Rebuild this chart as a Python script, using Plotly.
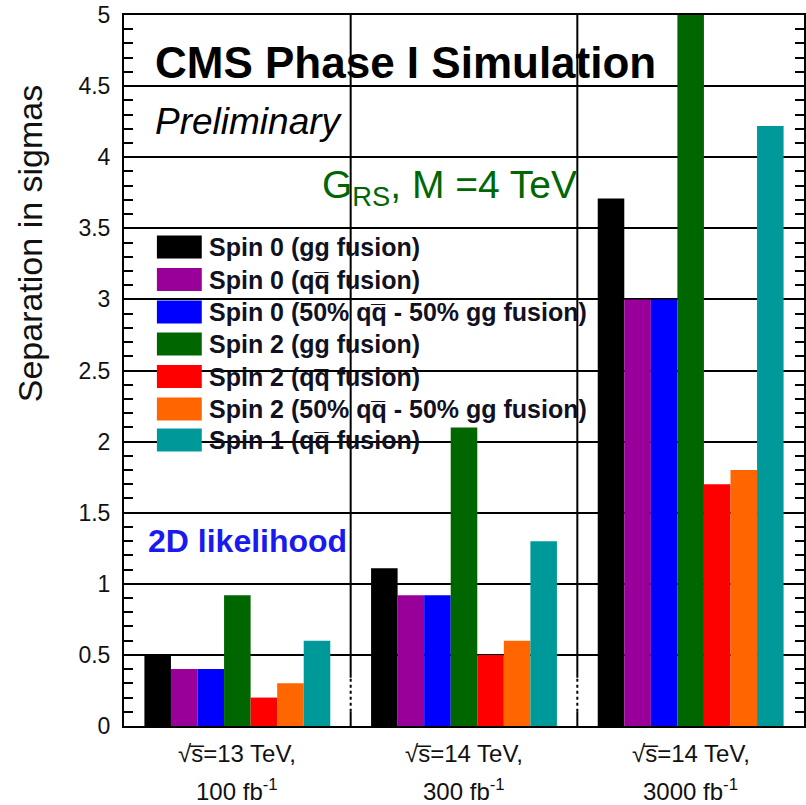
import plotly.graph_objects as go

# ---------------- data ----------------
label_line1 = ["\u221as\u0305=13 TeV,", "\u221as\u0305=14 TeV,", "\u221as\u0305=14 TeV,"]
label_line2 = ["100 fb<sup>-1</sup>", "300 fb<sup>-1</sup>", "3000 fb<sup>-1</sup>"]
categories = ["13 TeV 100", "14 TeV 300", "14 TeV 3000"]

series_names = [
    "Spin 0 (gg fusion)",
    "Spin 0 (qq\u0305 fusion)",
    "Spin 0 (50% qq\u0305 - 50% gg fusion)",
    "Spin 2 (gg fusion)",
    "Spin 2 (qq\u0305 fusion)",
    "Spin 2 (50% qq\u0305 - 50% gg fusion)",
    "Spin 1 (qq\u0305 fusion)",
]
spin0_gg = [0.50, 1.11, 3.71]
spin0_qq = [0.40, 0.92, 3.00]
spin0_mix = [0.40, 0.92, 3.00]
spin2_gg = [0.92, 2.10, 5.00]
spin2_qq = [0.20, 0.50, 1.70]
spin2_mix = [0.30, 0.60, 1.80]
spin1_qq = [0.60, 1.30, 4.22]
series_values = [spin0_gg, spin0_qq, spin0_mix, spin2_gg, spin2_qq, spin2_mix, spin1_qq]
colors = ["#000000", "#990099", "#0000ff", "#006600", "#ff0000", "#ff6600", "#009999"]

y_ticks = [0, 0.5, 1, 1.5, 2, 2.5, 3, 3.5, 4, 4.5, 5]

FONT = "Liberation Sans, Arial, Helvetica, sans-serif"

# ---------------- figure ----------------
W, H = 806, 805
ML, MR, MT, MB = 124, 0, 15, 79
PW, PH = W - ML - MR, H - MT - MB


def px_x(px):
    return (px - ML) / PW


def px_y(py):
    return (H - MB - py) / PH


fig = go.Figure()
for name, vals, col in zip(series_names, series_values, colors):
    fig.add_trace(go.Bar(x=categories, y=vals, name=name, marker=dict(color=col, line=dict(width=0)),
                         showlegend=False))

shapes = []
# group separators (vertical lines), solid with a dotted lower part
for xb in [0.5, 1.5]:
    shapes.append(dict(type="line", xref="x", yref="y", x0=xb, x1=xb, y0=0.34, y1=5,
                       line=dict(color="black", width=2), layer="below"))
    shapes.append(dict(type="line", xref="x", yref="y", x0=xb, x1=xb, y0=0.10, y1=0.34,
                       line=dict(color="black", width=2, dash="dot"), layer="below"))
    shapes.append(dict(type="line", xref="x", yref="y", x0=xb, x1=xb, y0=0, y1=0.10,
                       line=dict(color="black", width=2), layer="below"))

annotations = []
# custom legend
row_centers = [247, 279.5, 312, 344, 376.5, 409, 440]
for i, (name, col) in enumerate(zip(series_names, colors)):
    c = row_centers[i]
    shapes.append(dict(type="rect", xref="paper", yref="paper",
                       x0=px_x(157), x1=px_x(202), y0=px_y(c + 11.5), y1=px_y(c - 11.5),
                       fillcolor=col, line=dict(width=0), layer="above"))
    annotations.append(dict(xref="paper", yref="paper", x=px_x(207), y=px_y(c),
                            xanchor="left", yanchor="middle", showarrow=False,
                            text="<b>" + name + "</b>",
                            font=dict(family=FONT, size=25, color="#111122")))

# x category labels
for cat, l1, l2 in zip(categories, label_line1, label_line2):
    annotations.append(dict(xref="x", yref="paper", x=cat, y=0, yanchor="middle", yshift=-27,
                            showarrow=False, text=l1, font=dict(family=FONT, size=24, color="#111")))
    annotations.append(dict(xref="x", yref="paper", x=cat, y=0, yanchor="middle", yshift=-64,
                            showarrow=False, text=l2, font=dict(family=FONT, size=24, color="#111")))

# texts
annotations += [
    dict(xref="paper", yref="paper", x=px_x(153), y=px_y(63), xanchor="left", yanchor="middle",
         showarrow=False, text="<b>CMS Phase I Simulation</b>",
         font=dict(family=FONT, size=44, color="black")),
    dict(xref="paper", yref="paper", x=px_x(153), y=px_y(121), xanchor="left", yanchor="middle",
         showarrow=False, text="<i>Preliminary</i>",
         font=dict(family=FONT, size=37, color="black")),
    dict(xref="paper", yref="paper", x=px_x(321), y=px_y(187), xanchor="left", yanchor="middle",
         showarrow=False, text="G<sub>RS</sub>, M =4 TeV",
         font=dict(family=FONT, size=39, color="#006600")),
    dict(xref="paper", yref="paper", x=px_x(146), y=px_y(541), xanchor="left", yanchor="middle",
         showarrow=False, text="<b>2D likelihood</b>",
         font=dict(family=FONT, size=32, color="#1a1aee")),
    dict(xref="paper", yref="paper", x=px_x(30), y=px_y(243), xanchor="center", yanchor="middle",
         showarrow=False, text="Separation in sigmas", textangle=-90,
         font=dict(family=FONT, size=34, color="#111")),
]

fig.update_layout(
    width=W, height=H,
    margin=dict(l=ML, r=MR, t=MT, b=MB, pad=0),
    paper_bgcolor="white", plot_bgcolor="white",
    barmode="group", bargap=0.18, bargroupgap=0,
    showlegend=False,
    shapes=shapes, annotations=annotations,
    xaxis=dict(type="category", showticklabels=False, ticks="", showgrid=False,
               showline=True, linecolor="black", linewidth=2, mirror=True, zeroline=False),
    yaxis=dict(range=[0, 5], tickvals=y_ticks, ticktext=[str(v) for v in y_ticks],
               showgrid=True, gridcolor="black", gridwidth=2, zeroline=False,
               showline=True, linecolor="black", linewidth=2, mirror="allticks",
               ticks="inside", ticklen=16, tickwidth=2, tickcolor="black",
               ticklabelstandoff=7,
               tickfont=dict(family=FONT, size=23, color="#111"),
               minor=dict(dtick=0.1, ticks="inside", ticklen=9, tickwidth=2, tickcolor="black",
                          showgrid=False)),
    font=dict(family=FONT),
)

fig.write_html("out.html")
